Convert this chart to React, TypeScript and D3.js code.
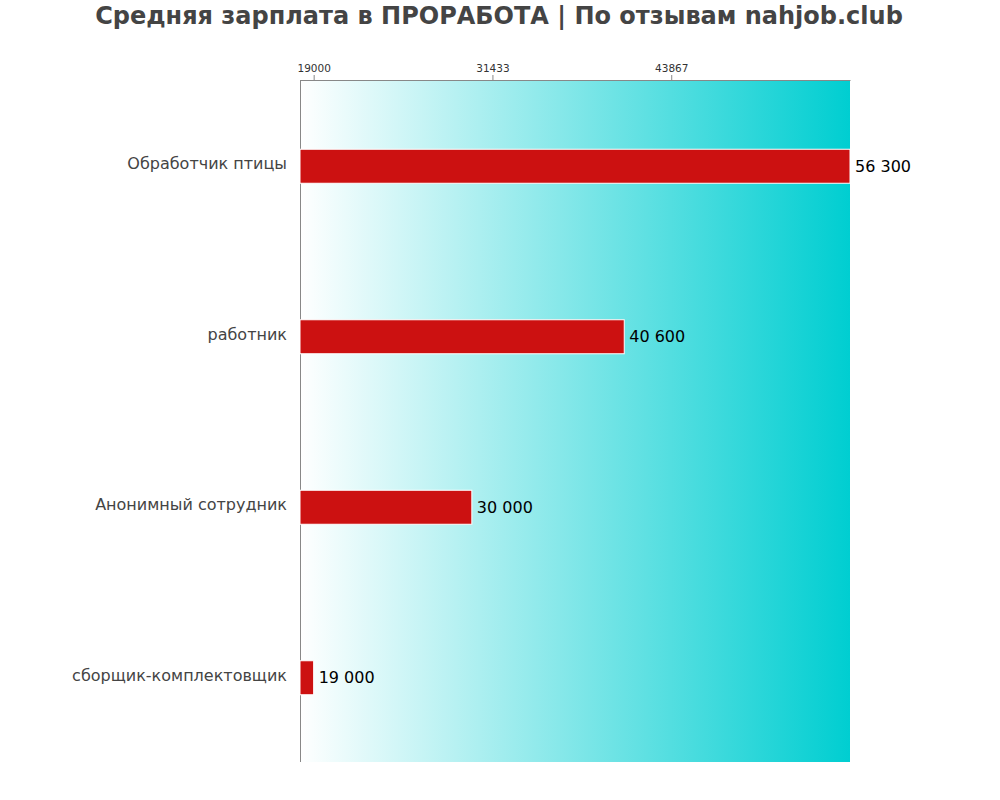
import { useRef, useEffect } from 'react';
import * as d3 from 'd3';

const categories = ['Обработчик птицы', 'работник', 'Анонимный сотрудник', 'сборщик-комплектовщик'];
const salaries = [56300, 40600, 30000, 19000];
const tickValues = [19000, 31433, 43867];

const TITLE = 'Средняя зарплата в ПРОРАБОТА | По отзывам nahjob.club';
const WIDTH = 1000;
const HEIGHT = 800;
const MARGIN = { top: 80, right: 150, bottom: 38, left: 300 };
const FONT = '"DejaVu Sans", sans-serif';

function fmt(v: number): string {
  return d3.format(',')(v).replace(/,/g, ' ');
}

export default function App() {
  const svgRef = useRef<SVGSVGElement>(null);

  useEffect(() => {
    if (!svgRef.current) return;
    const svg = d3.select(svgRef.current);
    svg.selectAll('*').remove();

    const innerW = WIDTH - MARGIN.left - MARGIN.right;
    const innerH = HEIGHT - MARGIN.top - MARGIN.bottom;

    // ── Gradient background ────────────────────────────────────────────────
    const defs = svg.append('defs');
    const grad = defs
      .append('linearGradient')
      .attr('id', 'bg-grad')
      .attr('x1', '0%')
      .attr('x2', '100%')
      .attr('y1', '0%')
      .attr('y2', '0%');
    grad.append('stop').attr('offset', '0%').attr('stop-color', '#ffffff');
    grad.append('stop').attr('offset', '100%').attr('stop-color', '#00ced1');

    // Title
    svg
      .append('text')
      .attr('x', WIDTH / 2 - 1)
      .attr('y', 24)
      .attr('text-anchor', 'middle')
      .attr('font-family', FONT)
      .attr('font-size', '24px')
      .attr('font-weight', 'bold')
      .attr('fill', '#444444')
      .text(TITLE);

    const g = svg.append('g').attr('transform', `translate(${MARGIN.left},${MARGIN.top})`);

    g.append('rect')
      .attr('x', 0)
      .attr('y', 0)
      .attr('width', innerW)
      .attr('height', innerH)
      .attr('fill', 'url(#bg-grad)');

    // ── Scales ─────────────────────────────────────────────────────────────
    const x = d3
      .scaleLinear()
      .domain([d3.min(salaries)! * 0.95, d3.max(salaries)!])
      .range([0, innerW]);

    const y = d3.scaleBand<string>().domain(categories).range([0, innerH]);

    // ── Top axis ───────────────────────────────────────────────────────────
    const top = g
      .append('g')
      .call(d3.axisTop(x).tickValues(tickValues).tickSize(5).tickSizeOuter(0).tickFormat((d) => `${d}`));
    top.select('.domain').attr('stroke', '#888888');
    top.selectAll('.tick line').attr('stroke', '#888888');
    top
      .selectAll('.tick text')
      .attr('font-family', FONT)
      .attr('font-size', '10.5px')
      .attr('fill', '#333333');
    // extend the axis line to the full width
    g.append('line')
      .attr('x1', 0)
      .attr('x2', innerW)
      .attr('y1', 0.5)
      .attr('y2', 0.5)
      .attr('stroke', '#888888');

    // ── Left axis line ─────────────────────────────────────────────────────
    g.append('line')
      .attr('x1', 0.5)
      .attr('x2', 0.5)
      .attr('y1', 0)
      .attr('y2', innerH)
      .attr('stroke', '#888888');

    // Category labels
    g.selectAll('text.cat')
      .data(categories)
      .join('text')
      .attr('class', 'cat')
      .attr('x', -13)
      .attr('y', (d) => y(d)! + y.bandwidth() / 2 - 1)
      .attr('dy', '0.3em')
      .attr('text-anchor', 'end')
      .attr('font-family', FONT)
      .attr('font-size', '16px')
      .attr('fill', '#444444')
      .text((d) => d);

    // ── Bars ───────────────────────────────────────────────────────────────
    const barH = 34;
    g.selectAll('rect.bar')
      .data(salaries)
      .join('rect')
      .attr('class', 'bar')
      .attr('x', 0)
      .attr('y', (_, i) => y(categories[i])! + y.bandwidth() / 2 - barH / 2 + 1)
      .attr('width', (d) => x(d))
      .attr('height', barH)
      .attr('fill', '#cc1111')
      .attr('stroke', '#ffffff')
      .attr('stroke-width', 1);

    // Value labels
    g.selectAll('text.val')
      .data(salaries)
      .join('text')
      .attr('class', 'val')
      .attr('x', (d) => x(d) + 5)
      .attr('y', (_, i) => y(categories[i])! + y.bandwidth() / 2 + 1)
      .attr('dy', '0.35em')
      .attr('font-family', FONT)
      .attr('font-size', '16px')
      .attr('fill', '#000000')
      .text((d) => fmt(d));
  }, []);

  return (
    <svg
      ref={svgRef}
      width={WIDTH}
      height={HEIGHT}
      style={{ position: 'absolute', left: 0, top: 0, background: '#ffffff' }}
    />
  );
}
